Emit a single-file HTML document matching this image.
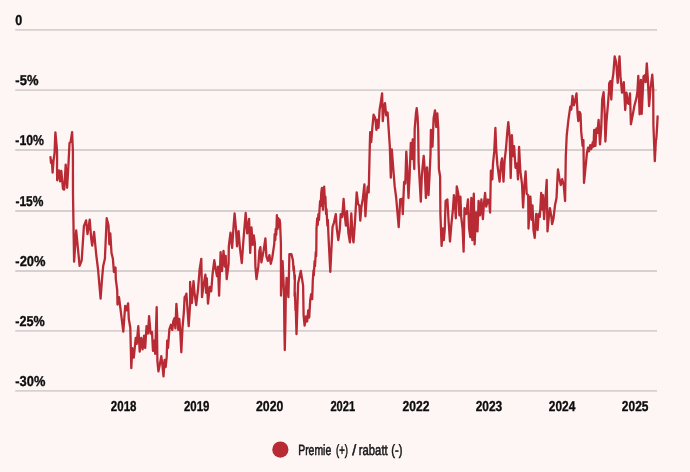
<!DOCTYPE html>
<html lang="nb"><head><meta charset="utf-8"><title>Premie / rabatt</title>
<style>
html,body{margin:0;padding:0;background:#fdf6f5;}
body{width:690px;height:472px;overflow:hidden;}
svg{display:block;will-change:transform;}
text{text-rendering:geometricPrecision;}
.ax{font-family:"Liberation Sans",sans-serif;font-weight:bold;font-size:14.3px;fill:#0d0d0d;stroke:#0d0d0d;stroke-width:0.35px;}
.lg{font-family:"Liberation Sans",sans-serif;font-weight:normal;font-size:14.7px;fill:#161616;stroke:#161616;stroke-width:0.55px;}
</style></head><body>
<svg width="690" height="472" viewBox="0 0 690 472">
<defs><filter id="sharp" x="-20" y="-20" width="730" height="512" filterUnits="userSpaceOnUse" color-interpolation-filters="sRGB"><feGaussianBlur in="SourceGraphic" stdDeviation="0.7" result="b"/><feComposite in="SourceGraphic" in2="b" operator="arithmetic" k1="0" k2="1.6" k3="-0.6" k4="0"/></filter></defs>
<g filter="url(#sharp)">
<rect x="-20" y="-20" width="730" height="512" fill="#fdf6f5"/>
<g stroke="#d6d1d0" stroke-width="1.8">
<line x1="15.2" x2="657" y1="29.90" y2="29.90"/>
<line x1="15.2" x2="657" y1="90.10" y2="90.10"/>
<line x1="15.2" x2="657" y1="150.00" y2="150.00"/>
<line x1="15.2" x2="657" y1="211.00" y2="211.00"/>
<line x1="15.2" x2="657" y1="271.00" y2="271.00"/>
<line x1="15.2" x2="657" y1="330.90" y2="330.90"/>
<line x1="15.2" x2="657" y1="390.90" y2="390.90"/>
</g>
<g class="ax">
<text transform="translate(15.33 24.90) scale(0.880 1)">0</text>
<text transform="translate(15.37 85.10) scale(0.907 1)">-5%</text>
<text transform="translate(15.33 145.00) scale(0.859 1)">-10%</text>
<text transform="translate(15.39 206.00) scale(0.839 1)">-15%</text>
<text transform="translate(15.37 266.00) scale(0.902 1)">-20%</text>
<text transform="translate(15.37 325.90) scale(0.883 1)">-25%</text>
<text transform="translate(15.32 385.90) scale(0.899 1)">-30%</text>
<text transform="translate(110.85 411.45) scale(0.804 1)">2018</text>
<text transform="translate(183.95 411.45) scale(0.800 1)">2019</text>
<text transform="translate(256.03 411.45) scale(0.858 1)">2020</text>
<text transform="translate(330.46 411.45) scale(0.775 1)">2021</text>
<text transform="translate(402.54 411.45) scale(0.849 1)">2022</text>
<text transform="translate(475.64 411.45) scale(0.836 1)">2023</text>
<text transform="translate(548.74 411.45) scale(0.835 1)">2024</text>
<text transform="translate(621.84 411.45) scale(0.836 1)">2025</text>
</g>
<path d="M50.5,157.2 L51.0,162.8 L51.8,160.5 L52.6,172.7 L53.6,160.0 L54.6,153.0 L55.0,141.0 L55.4,132.4 L56.1,140.0 L57.0,150.0 L57.1,160.0 L57.0,168.6 L57.2,180.3 L59.0,170.4 L60.1,181.4 L61.3,170.9 L63.0,189.0 L64.2,189.6 L65.7,164.6 L67.1,187.8 L68.3,167.5 L69.5,143.1 L70.6,142.0 L72.1,132.1 L72.9,151.3 L73.0,195.0 L74.1,261.7 L76.2,230.5 L79.6,265.8 L81.7,260.3 L83.9,226.2 L86.1,220.4 L87.5,234.1 L89.7,219.6 L91.2,238.5 L92.2,245.7 L94.1,232.0 L95.5,247.2 L96.2,254.5 L98.0,269.0 L100.6,298.7 L102.0,279.1 L103.2,266.1 L104.9,258.8 L106.7,218.2 L108.5,225.4 L109.3,244.3 L110.3,233.4 L111.5,253.0 L112.9,258.8 L113.9,271.9 L115.5,267.5 L115.8,279.1 L117.2,290.0 L117.5,304.5 L119.0,297.2 L120.1,305.9 L123.3,331.7 L125.2,305.9 L126.7,310.3 L128.1,303.3 L128.8,319.0 L130.3,327.7 L131.3,368.2 L132.3,348.2 L133.8,357.6 L135.7,338.0 L136.7,343.8 L138.3,326.2 L139.7,351.6 L141.2,337.8 L142.6,349.4 L144.1,335.6 L145.2,348.0 L146.5,326.2 L148.0,333.5 L149.1,316.1 L150.6,333.5 L152.0,332.0 L153.0,350.9 L154.2,340.7 L155.2,353.8 L156.7,307.1 L157.4,361.2 L158.4,371.4 L159.9,364.1 L161.3,356.2 L162.3,364.1 L163.5,376.4 L164.6,359.8 L165.7,367.0 L166.7,356.9 L167.2,340.7 L168.0,348.0 L169.4,329.1 L170.9,324.8 L172.3,329.9 L173.3,321.2 L174.5,318.3 L175.4,328.4 L176.4,303.8 L177.4,317.5 L178.3,329.9 L179.3,319.0 L180.3,332.0 L181.3,352.3 L182.5,327.7 L183.9,311.7 L184.6,297.2 L185.7,295.8 L186.4,293.6 L188.7,326.2 L190.1,304.5 L190.1,282.0 L191.9,303.0 L193.5,281.2 L194.5,292.8 L196.2,305.1 L198.1,288.5 L199.6,269.6 L201.3,258.8 L202.0,297.2 L203.5,285.6 L205.4,274.7 L206.1,292.8 L206.8,278.3 L208.0,303.7 L209.7,287.0 L211.2,291.4 L212.6,274.0 L214.3,260.2 L215.5,268.2 L217.0,276.2 L218.0,266.7 L219.1,295.7 L220.6,252.2 L222.0,271.1 L223.5,250.8 L224.9,266.7 L225.7,255.9 L226.7,279.1 L228.6,263.8 L228.8,246.4 L230.5,232.6 L232.1,247.8 L233.6,226.1 L234.6,213.3 L236.0,229.0 L237.0,246.4 L238.6,231.2 L239.9,247.8 L241.8,263.0 L243.3,242.0 L244.7,224.6 L245.7,213.0 L247.2,233.3 L249.1,218.8 L250.2,252.9 L251.5,227.5 L252.7,244.9 L253.8,235.5 L254.9,243.5 L255.4,266.7 L256.5,279.1 L258.3,266.7 L259.4,250.8 L260.4,247.1 L261.4,262.3 L263.6,250.7 L265.4,238.4 L266.4,256.5 L267.9,260.9 L269.4,255.1 L270.8,263.8 L272.2,258.0 L273.7,247.8 L274.3,243.5 L274.7,234.1 L275.3,239.9 L275.7,229.0 L276.3,234.8 L276.9,215.2 L277.6,229.0 L278.2,218.1 L278.9,226.8 L279.6,219.6 L280.1,223.2 L280.9,243.5 L281.0,295.6 L282.6,261.2 L284.0,292.0 L284.4,330.0 L284.8,350.0 L285.5,318.0 L285.8,295.0 L286.6,278.0 L288.4,297.1 L289.4,254.1 L291.4,254.1 L292.9,260.2 L293.6,270.4 L293.8,266.3 L294.6,279.5 L294.9,275.4 L294.6,296.1 L294.9,292.0 L295.5,310.4 L295.7,305.3 L296.5,334.2 L297.3,310.4 L298.1,283.6 L300.8,270.9 L303.1,285.6 L303.6,315.4 L304.6,325.6 L306.1,316.4 L307.2,321.5 L308.2,310.4 L309.2,317.5 L310.2,300.2 L311.2,294.1 L312.2,299.2 L312.8,280.5 L313.5,270.4 L313.8,275.4 L314.6,261.2 L315.0,266.3 L315.8,252.0 L316.1,256.1 L316.3,250.0 L316.5,228.6 L317.2,218.5 L317.7,225.0 L318.4,214.1 L319.0,219.9 L319.6,208.3 L320.1,201.1 L320.6,206.2 L321.3,192.4 L321.9,188.0 L323.0,209.8 L324.2,186.6 L324.9,202.5 L325.4,196.7 L326.1,214.1 L326.5,209.1 L327.4,225.7 L327.8,219.9 L328.6,238.8 L330.3,271.9 L332.5,227.2 L333.9,222.8 L335.8,214.1 L336.8,228.6 L338.3,240.2 L339.7,230.1 L340.7,214.1 L342.2,217.0 L343.6,198.9 L344.8,215.6 L345.9,225.7 L347.0,211.2 L348.4,233.0 L349.9,242.4 L351.3,213.4 L352.8,238.8 L353.5,242.4 L354.9,222.8 L356.7,192.4 L358.1,204.0 L359.3,205.4 L360.3,220.7 L361.4,206.9 L362.9,198.2 L364.4,184.4 L365.4,216.3 L366.5,199.6 L367.7,186.6 L368.7,192.4 L369.8,145.9 L370.2,132.1 L371.2,142.2 L372.4,127.0 L373.6,114.7 L375.3,118.3 L376.4,129.9 L377.5,119.8 L378.5,127.8 L379.6,109.6 L380.8,102.4 L382.1,93.4 L382.8,121.2 L384.0,106.7 L385.0,103.1 L386.2,115.4 L387.6,112.5 L388.6,128.5 L389.8,145.9 L390.8,177.7 L391.8,149.4 L393.3,169.0 L394.7,186.4 L396.2,198.0 L398.7,227.2 L399.6,211.2 L400.2,199.4 L402.0,198.7 L402.8,214.1 L404.1,182.0 L405.3,183.5 L406.3,151.6 L407.3,169.0 L408.5,198.0 L409.6,176.2 L410.8,143.0 L412.1,158.8 L412.7,139.3 L414.3,169.0 L414.7,128.5 L415.9,114.0 L416.7,108.2 L417.6,116.9 L418.2,131.4 L418.6,161.7 L419.8,183.5 L420.8,201.6 L421.8,176.2 L422.7,166.1 L423.7,155.9 L424.7,169.0 L425.9,198.0 L427.0,167.5 L428.5,195.1 L429.5,176.2 L430.5,154.5 L430.9,129.9 L432.5,146.6 L433.6,118.3 L435.0,110.4 L436.2,127.0 L437.3,113.3 L438.3,128.5 L438.9,169.0 L440.1,176.2 L440.4,214.0 L441.6,245.9 L442.8,228.5 L443.8,240.1 L444.8,228.5 L445.6,200.9 L447.4,199.5 L448.6,221.2 L450.0,241.5 L451.4,224.1 L452.9,209.6 L453.9,195.1 L454.9,203.8 L455.8,218.3 L456.8,186.4 L458.3,193.7 L459.4,215.4 L460.4,196.6 L461.2,216.9 L462.6,228.5 L463.6,251.7 L464.5,208.2 L466.2,214.0 L468.0,199.5 L469.1,228.5 L470.3,237.2 L471.3,198.0 L472.3,240.1 L473.8,193.7 L474.6,244.4 L476.1,212.5 L477.5,231.4 L478.6,200.9 L480.0,215.4 L481.4,199.5 L482.9,219.1 L483.9,203.8 L485.1,193.0 L486.2,206.7 L488.0,199.5 L489.1,200.9 L490.1,212.5 L490.9,170.7 L492.3,179.4 L493.0,163.5 L494.2,151.9 L495.4,128.0 L496.2,149.0 L497.4,164.9 L499.6,181.6 L501.0,163.5 L502.0,158.4 L503.5,181.6 L504.6,160.6 L506.1,147.5 L507.2,133.0 L508.3,122.2 L509.7,137.4 L510.7,178.0 L511.9,135.2 L513.0,156.2 L514.1,146.1 L515.5,167.8 L517.0,163.5 L518.0,179.4 L519.1,146.8 L520.3,170.7 L522.0,183.8 L523.1,207.5 L524.1,189.4 L525.6,171.4 L526.7,193.7 L528.2,195.2 L528.5,228.5 L529.6,208.2 L530.4,196.6 L531.5,219.8 L532.5,205.3 L533.5,230.0 L534.7,237.9 L536.2,214.0 L537.6,230.0 L538.6,214.0 L539.8,216.9 L541.2,193.0 L542.4,209.7 L543.0,195.2 L544.1,219.1 L545.3,201.0 L546.7,180.0 L547.5,231.4 L548.5,219.8 L549.9,208.2 L551.4,216.9 L552.1,224.2 L553.5,218.4 L555.0,205.3 L556.5,198.1 L557.5,177.8 L558.0,169.3 L559.4,178.5 L560.8,185.0 L562.2,179.2 L563.7,185.0 L565.1,201.0 L565.8,156.2 L566.7,135.7 L568.4,119.8 L570.3,106.7 L571.3,109.6 L572.5,95.9 L573.9,105.3 L575.1,100.9 L576.5,93.4 L577.6,114.0 L578.3,121.2 L579.5,111.8 L580.5,114.0 L581.2,131.4 L582.6,145.9 L583.4,140.1 L584.0,182.9 L587.0,152.4 L588.1,147.6 L589.0,151.4 L590.2,145.1 L591.3,149.1 L592.8,142.2 L593.5,146.6 L594.2,129.9 L595.4,145.9 L596.4,128.5 L597.4,132.8 L598.6,119.8 L600.0,144.4 L601.2,128.5 L602.2,99.5 L603.6,92.2 L604.7,114.0 L605.4,141.5 L606.5,121.2 L608.0,103.8 L609.0,90.8 L609.2,83.4 L610.4,81.1 L611.3,99.5 L612.4,79.9 L613.3,74.1 L614.7,56.4 L616.2,62.5 L617.7,82.8 L619.5,56.4 L620.5,76.4 L622.0,92.7 L623.8,82.2 L625.2,110.0 L626.5,92.6 L627.8,103.0 L628.7,103.9 L630.0,93.5 L630.9,124.3 L633.0,113.5 L634.4,105.7 L636.5,97.8 L637.4,91.7 L638.3,75.8 L639.6,114.3 L640.9,79.9 L641.7,113.9 L643.5,76.4 L644.7,75.3 L645.6,82.2 L646.8,63.4 L647.9,79.9 L649.1,106.1 L650.5,88.1 L652.3,74.7 L653.2,89.2 L653.4,125.0 L654.8,161.1 L655.9,139.8 L656.3,139.3 L657.2,125.0 L657.6,116.5" fill="none" stroke="#b82a34" stroke-width="2.3" stroke-linejoin="round" stroke-linecap="round"/>
<circle cx="280.35" cy="449.6" r="8.1" fill="#b82a34"/>
<g class="lg">
<text transform="translate(298.21 454.7) scale(0.709 1)">Premie</text>
<text transform="translate(336.03 454.7) scale(0.651 1)">(+)</text>
<text transform="translate(352.17 454.7) scale(0.967 1)">/</text>
<text transform="translate(358.84 454.7) scale(0.767 1)">rabatt</text>
<text transform="translate(391.35 454.7) scale(0.759 1)">(-)</text>
</g>
</g></svg></body></html>
